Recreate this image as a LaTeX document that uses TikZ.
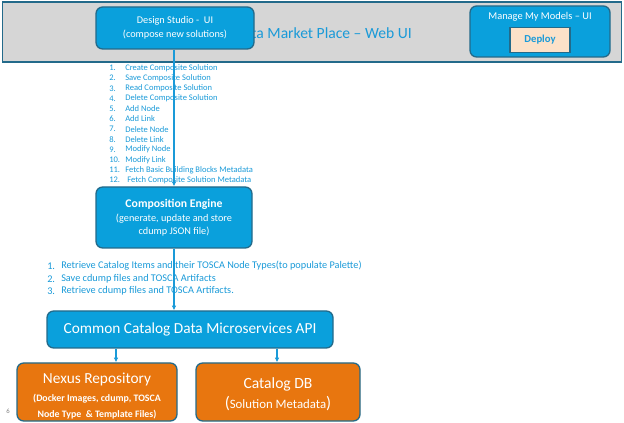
\documentclass[tikz,border=0pt]{standalone}
\usepackage{fontspec}
\setmainfont{Carlito}
\usetikzlibrary{arrows.meta}
\definecolor{boxblue}{HTML}{0AA0DC}
\definecolor{boxedge}{HTML}{236A8A}
\definecolor{txtblue}{HTML}{1A9AD8}
\definecolor{banner}{HTML}{D6D6D6}
\definecolor{orangefill}{HTML}{E8760F}
\definecolor{peach}{HTML}{FCE1C8}
\tikzset{
  bluebox/.style={draw=boxedge, line width=1pt, fill=boxblue, rounded corners=5pt, text=white, align=center, inner sep=0pt},
  orangebox/.style={draw=boxedge, line width=1pt, fill=orangefill, rounded corners=5pt, text=white, align=center, inner sep=0pt},
  conn/.style={draw=txtblue, line width=0.9pt, -{Latex[length=3.5pt,width=3.5pt]}},
  listtxt/.style={text=txtblue, anchor=west, inner sep=0pt},
}
\begin{document}
\begin{tikzpicture}[x=0.75pt,y=-0.75pt]
\useasboundingbox (0,0) rectangle (624,423);
% banner
\node[draw=boxedge, line width=1pt, fill=banner, minimum width=619*0.75pt, minimum height=60*0.75pt, inner sep=0pt] (banner) at (312,32) {};
\node[text=txtblue, anchor=east, font=\fontsize{11.7}{13}\selectfont, inner sep=0pt] (title) at (412,33) {Data Market Place – Web UI};
% Design studio
\node[bluebox, minimum width=158*0.75pt, minimum height=42*0.75pt, font=\fontsize{7.7}{10.5}\selectfont] (ds) at (175,28) {Design Studio -{}\ \ UI\\(compose new solutions)};
% Manage my models
\node[bluebox, minimum width=140*0.75pt, minimum height=51*0.75pt] (mm) at (540,31.5) {};
\node[text=white, font=\fontsize{7.8}{9}\selectfont, inner sep=0pt] (mmt) at (540,17) {Manage My Models – UI};
\node[draw=boxedge, line width=0.8pt, fill=peach, minimum width=60*0.75pt, minimum height=25*0.75pt, text=txtblue, font=\bfseries\fontsize{8}{9}\selectfont, inner sep=0pt] (deploy) at (540,40) {Deploy};
% list 1
\foreach \n/\t [count=\i] in {1./Create Composite Solution, 2./Save Composite Solution, 3./Read Composite Solution, 4./Delete Composite Solution, 5./Add Node, 6./Add Link, 7./Delete Node, 8./Delete Link, 9./Modify Node, 10./Modify Link, 11./Fetch Basic Building Blocks Metadata}{
  \node[listtxt, font=\fontsize{6.4}{7}\selectfont] (la\i) at (109,{68+10.2*(\i-1)}) {\n};
  \node[listtxt, font=\fontsize{6.4}{7}\selectfont] (lb\i) at (125,{68+10.2*(\i-1)}) {\t};
}
\node[listtxt, font=\fontsize{6.4}{7}\selectfont] (la12) at (109,180) {12.};
\node[listtxt, font=\fontsize{6.4}{7}\selectfont] (lb12) at (127,180) {Fetch Composite Solution Metadata};
% Composition engine
\node[bluebox, minimum width=156*0.75pt, minimum height=61*0.75pt, font=\fontsize{7.7}{10}\selectfont] (ce) at (174,217.5) {{\bfseries\fontsize{8.8}{10}\selectfont Composition Engine}\\[0.5pt](generate, update and store\\cdump JSON file)};
% list 2
\node[listtxt, font=\fontsize{7.7}{9}\selectfont] (m1a) at (47,266) {1.};
\node[listtxt, font=\fontsize{7.7}{9}\selectfont] (m1b) at (61,266) {Retrieve Catalog Items and their TOSCA Node Types(to populate Palette)};
\node[listtxt, font=\fontsize{7.7}{9}\selectfont] (m2a) at (47,279) {2.};
\node[listtxt, font=\fontsize{7.7}{9}\selectfont] (m2b) at (61,279) {Save cdump files and TOSCA Artifacts};
\node[listtxt, font=\fontsize{7.7}{9}\selectfont] (m3a) at (47,291) {3.};
\node[listtxt, font=\fontsize{7.7}{9}\selectfont] (m3b) at (61,291) {Retrieve cdump files and TOSCA Artifacts.};
% Common catalog
\node[bluebox, minimum width=286*0.75pt, minimum height=37*0.75pt, font=\fontsize{11.5}{13}\selectfont] (cc) at (190,329.5) {Common Catalog Data Microservices API};
% Nexus / Catalog DB
\node[orangebox, minimum width=160*0.75pt, minimum height=58*0.75pt] (nx) at (97,392) {};
\node[text=white, align=center, inner sep=0pt] (nxt) at (97,396) {{\fontsize{11.5}{13}\selectfont Nexus Repository}\\[1pt]{\bfseries\fontsize{7.4}{9}\selectfont (Docker Images, cdump, TOSCA}\\{\bfseries\fontsize{7.4}{9}\selectfont Node Type\ \ \& Template Files)}};
\node[orangebox, minimum width=164*0.75pt, minimum height=58*0.75pt] (db) at (278,392) {};
\node[text=white, align=center, inner sep=0pt] (dbt) at (278,394) {{\fontsize{11.7}{13}\selectfont Catalog DB}\\[3pt]{\fontsize{9.6}{11}\selectfont {\fontsize{12.5}{13}\selectfont(}Solution Metadata{\fontsize{12.5}{13}\selectfont)}}};
\node[text=gray, font=\fontsize{5}{6}\selectfont, inner sep=0pt] (pg) at (8,411) {6};
% connectors
\draw[conn] (ds.south -| 174,0) -- (ce.north -| 174,0);
\draw[conn] (ce.south -| 174,0) -- (cc.north -| 174,0);
\draw[conn] (cc.south -| 116,0) -- (nx.north -| 116,0);
\draw[conn] (cc.south -| 277,0) -- (db.north -| 277,0);
\end{tikzpicture}
\end{document}
